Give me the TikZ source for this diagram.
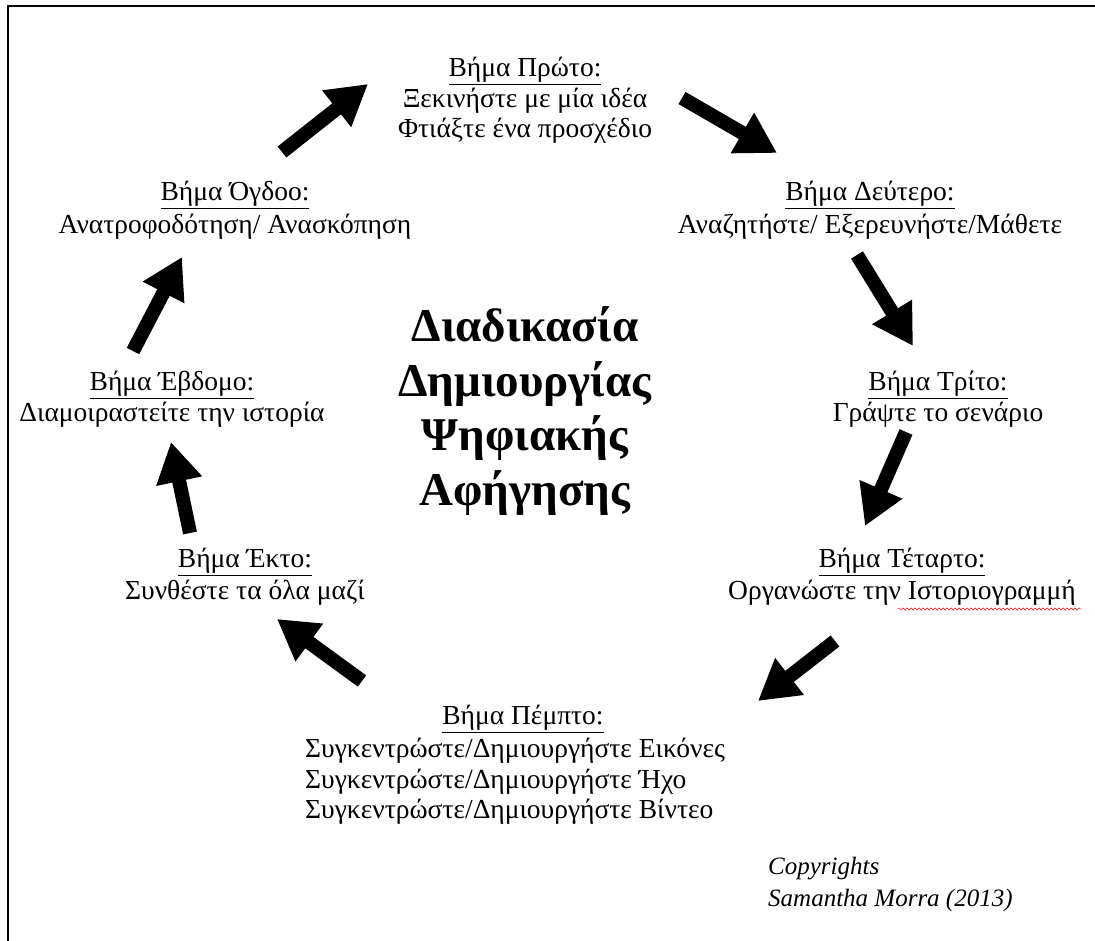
\documentclass[tikz,border=0pt]{standalone}
\usepackage{fontspec}
\setmainfont{Liberation Serif}
\usetikzlibrary{arrows.meta}
\usetikzlibrary{decorations.pathmorphing}

\begin{document}
\begin{tikzpicture}[x=1pt,y=-1pt,
		stepnode/.style={
		% The text:
		font=\fontsize{27.5}{30.5}\selectfont,
		align=center,
		% No padding, the anchor sits on the text
		inner sep=0pt,
		anchor=north
		},
		titlenode/.style={
		font=\fontsize{47}{54.5}\selectfont\bfseries,
		align=center,
		inner sep=0pt
		},
		bigarrow/.style={
		% thick shaft, wide head
		line width=14pt,
		-{Triangle[length=40pt,width=44pt]}
		}
	]
	\useasboundingbox (0,0) rectangle (1095,941);
	% the frame (only top and left show)
	\draw [line width=2.5pt] (8,941) -- (8,6) -- (1095,6);

	\node (S1)[stepnode] at (525,57) {\underline{Βήμα Πρώτο:}\\Ξεκινήστε με μία ιδέα\\Φτιάξτε ένα προσχέδιο};
	\node (S2)[stepnode] at (870,181) {\underline{Βήμα Δεύτερο:}\\[2pt]Αναζητήστε/ Εξερευνήστε/Μάθετε};
	\node (S3)[stepnode] at (938,371) {\underline{Βήμα Τρίτο:}\\Γράψτε το σενάριο};
	\node (S4)[stepnode] at (902,548) {\underline{Βήμα Τέταρτο:}\\[1pt]Οργανώστε την Ιστοριογραμμή};
	\node (S5)[stepnode] at (523,705) {\underline{Βήμα Πέμπτο:}};
	\node (S5T)[stepnode,align=left,anchor=north west] at (305,738) {Συγκεντρώστε/Δημιουργήστε Εικόνες\\Συγκεντρώστε/Δημιουργήστε Ήχο\\Συγκεντρώστε/Δημιουργήστε Βίντεο};
	\node (S6)[stepnode] at (245,548) {\underline{Βήμα Έκτο:}\\[1pt]Συνθέστε τα όλα μαζί};
	\node (S7)[stepnode] at (172,371) {\underline{Βήμα Έβδομο:}\\Διαμοιραστείτε την ιστορία};
	\node (S8)[stepnode] at (235,181) {\underline{Βήμα Όγδοο:}\\[2pt]Ανατροφοδότηση/ Ανασκόπηση};

	\node (TITLE)[titlenode] at (525,411) {Διαδικασία\\Δημιουργίας\\Ψηφιακής\\Αφήγησης};
	\node (COPY)[stepnode,align=left,anchor=north west,font=\fontsize{25}{32}\selectfont\itshape] at (768,857) {Copyrights\\Samantha Morra (2013)};

	% arrow ends between the steps
	\coordinate (A1a) at (282,152); \coordinate (A1b) at (368,84);
	\coordinate (A2a) at (682,98);  \coordinate (A2b) at (777,153);
	\coordinate (A3a) at (857,255); \coordinate (A3b) at (913,346);
	\coordinate (A4a) at (906,432); \coordinate (A4b) at (865,526);
	\coordinate (A5a) at (835,641); \coordinate (A5b) at (758,701);
	\coordinate (A6a) at (362,681); \coordinate (A6b) at (277,619);
	\coordinate (A7a) at (190,533); \coordinate (A7b) at (171,442);
	\coordinate (A8a) at (133,351); \coordinate (A8b) at (182,257);

	\draw [bigarrow] (A1a) -- (A1b);
	\draw [bigarrow] (A2a) -- (A2b);
	\draw [bigarrow] (A3a) -- (A3b);
	\draw [bigarrow] (A4a) -- (A4b);
	\draw [bigarrow] (A5a) -- (A5b);
	\draw [bigarrow] (A6a) -- (A6b);
	\draw [bigarrow] (A7a) -- (A7b);
	\draw [bigarrow] (A8a) -- (A8b);

	% spell-check squiggle under the last word of step four
	\draw [red, decorate, decoration={snake, amplitude=1pt, segment length=4pt}] (898,609) -- (1082,609);
\end{tikzpicture}
\end{document}
